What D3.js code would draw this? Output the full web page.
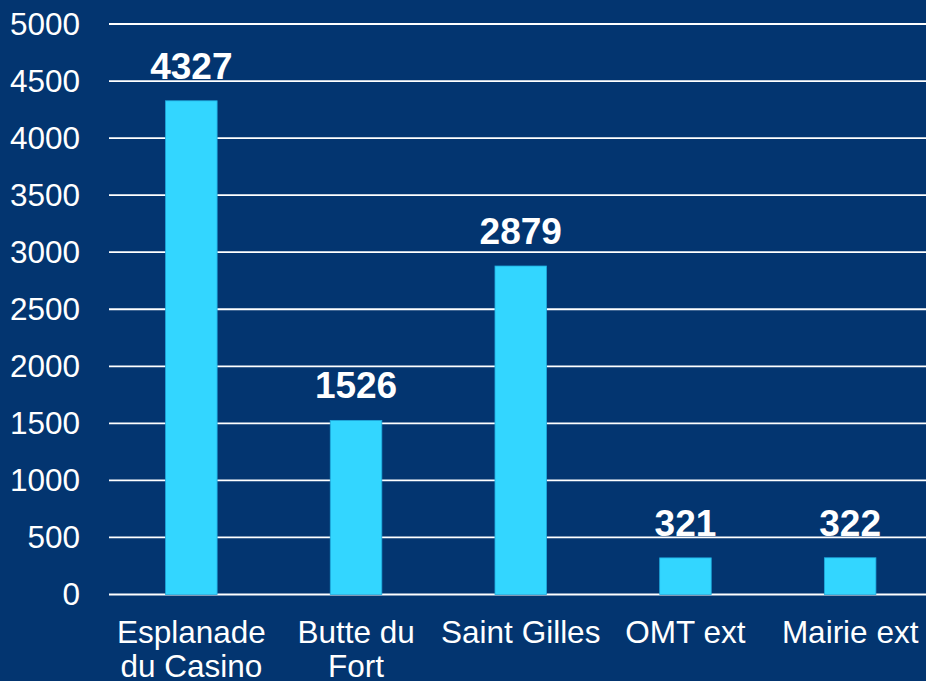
<!DOCTYPE html>
<html lang="fr">
<head>
<meta charset="UTF-8">
<title>Fréquentation par site</title>
<script src="https://d3js.org/d3.v7.min.js"></script>
<style>
  html, body { margin: 0; padding: 0; background: #033570; overflow: hidden; }
  svg { display: block; }
  text { font-family: "Liberation Sans", Arial, sans-serif; fill: #fff; }
</style>
</head>
<body>
<svg width="926" height="681"></svg>
<script>
// data
var sites = [["Esplanade", "du Casino"], ["Butte du", "Fort"], ["Saint Gilles"], ["OMT ext"], ["Mairie ext"]];
var counts = [4327, 1526, 2879, 321, 322];
var yTicks = [0, 500, 1000, 1500, 2000, 2500, 3000, 3500, 4000, 4500, 5000];

(function() {
    var svg = d3.select("svg"),
        width = 926,
        height = 681;

    svg.append("rect").attr("width", width).attr("height", height).attr("fill", "#033570");

    var plotLeft = 109, plotRight = 932.5, plotTop = 24, plotBottom = 594.5;

    var x = d3.scaleBand()
        .domain(d3.range(sites.length))
        .range([plotLeft, plotRight])
        .paddingInner(0.687)
        .paddingOuter(0.3435);

    var y = d3.scaleLinear().domain([0, 5000]).range([plotBottom, plotTop]);

    // gridlines
    svg.append("g")
        .selectAll("line")
        .data(yTicks)
        .join("line")
        .attr("x1", plotLeft)
        .attr("x2", width)
        .attr("y1", function(d) { return y(d); })
        .attr("y2", function(d) { return y(d); })
        .attr("stroke", "#fff")
        .attr("stroke-width", 1.8);

    // y axis labels
    svg.append("g")
        .selectAll("text")
        .data(yTicks)
        .join("text")
        .attr("x", 80)
        .attr("y", function(d) { return y(d) + 10.5; })
        .attr("text-anchor", "end")
        .style("font-size", "31.5px")
        .text(function(d) { return d; });

    // bars
    svg.append("g")
        .selectAll("rect")
        .data(counts)
        .join("rect")
        .attr("x", function(d, i) { return x(i); })
        .attr("width", x.bandwidth())
        .attr("y", function(d) { return y(d); })
        .attr("height", function(d) { return y(0) - y(d); })
        .attr("fill", "#33d6ff")
        .attr("stroke", "#1fa9dd")
        .attr("stroke-width", 0.8);

    // value labels
    svg.append("g")
        .selectAll("text")
        .data(counts)
        .join("text")
        .attr("x", function(d, i) { return x(i) + x.bandwidth() / 2; })
        .attr("y", function(d) { return y(d) - 22; })
        .attr("text-anchor", "middle")
        .style("font-size", "37px")
        .style("font-weight", "bold")
        .text(function(d) { return d; });

    // category labels
    var cat = svg.append("g")
        .selectAll("text")
        .data(sites)
        .join("text")
        .attr("x", function(d, i) { return x(i) + x.bandwidth() / 2; })
        .attr("y", 643)
        .attr("text-anchor", "middle")
        .style("font-size", "31.5px");

    cat.selectAll("tspan")
        .data(function(d) { return d; })
        .join("tspan")
        .attr("x", function() { return d3.select(this.parentNode).attr("x"); })
        .attr("dy", function(d, i) { return i === 0 ? 0 : 33.5; })
        .text(function(d) { return d; });
})();
</script>
</body>
</html>
